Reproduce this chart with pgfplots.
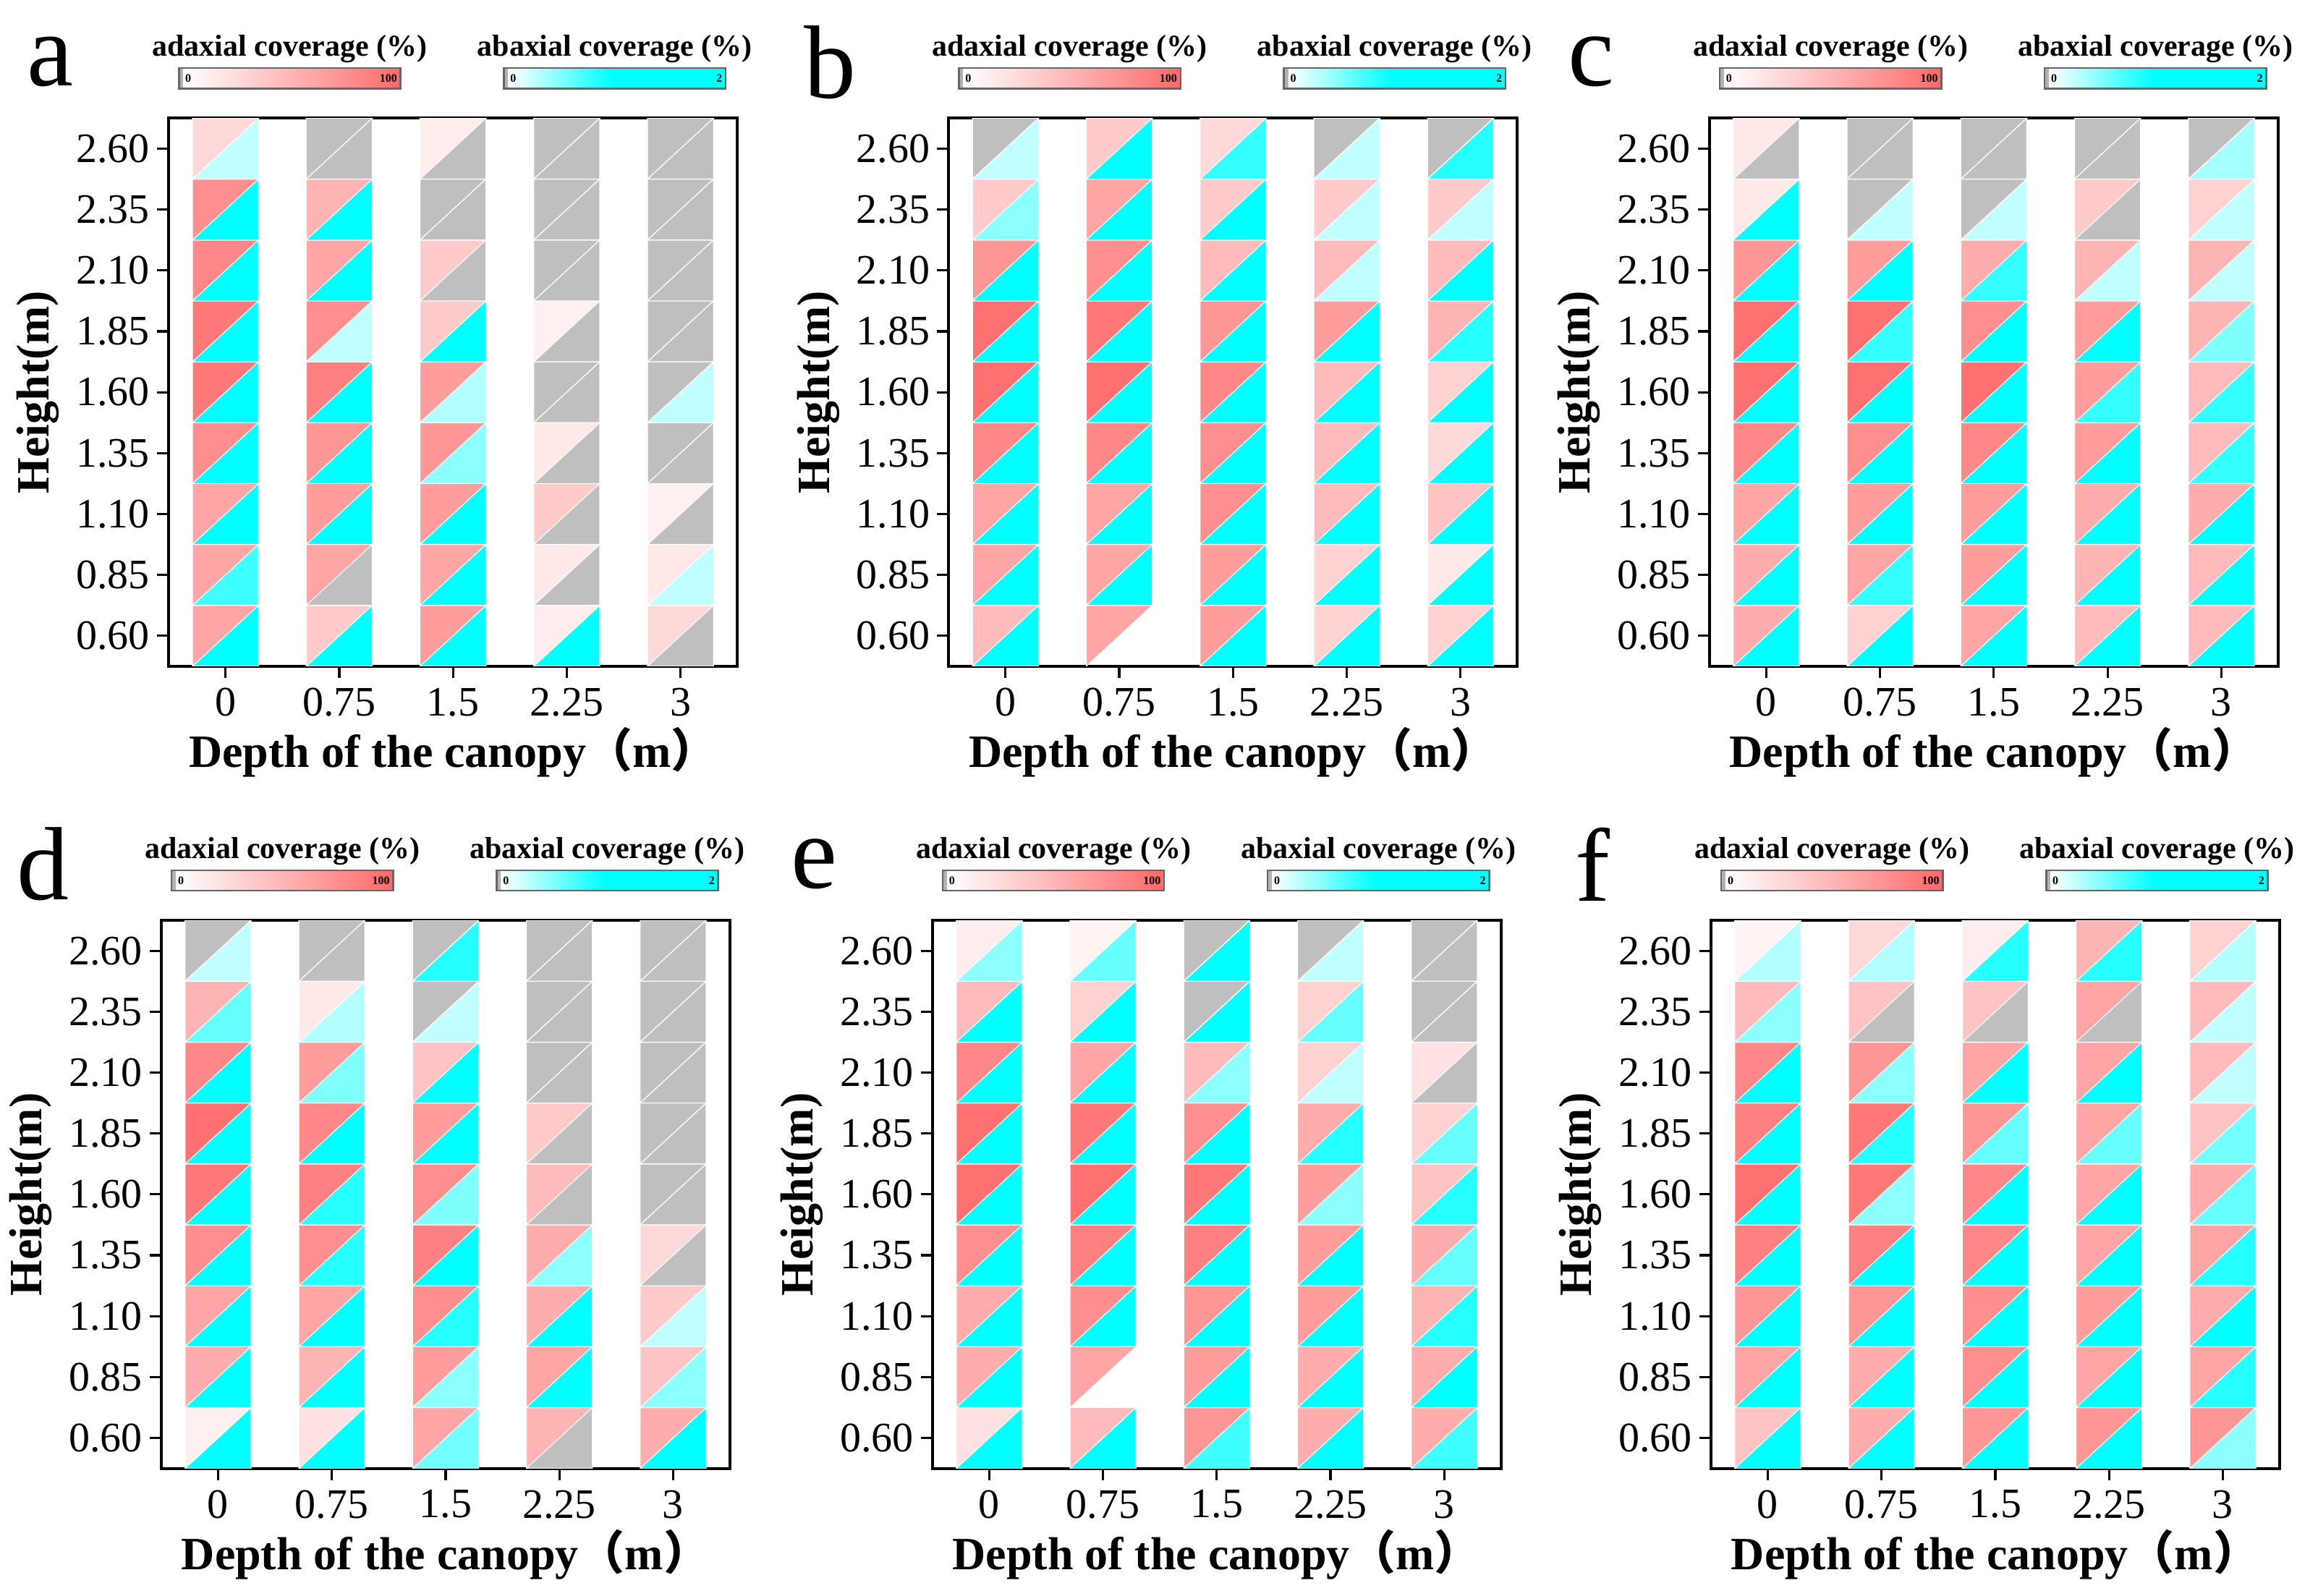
\documentclass[border=0pt]{standalone}
\usepackage{pgfplots}
\pgfplotsset{compat=1.18}
\usepackage{fontspec}
\setmainfont{Liberation Serif}
\newfontfamily\cjk{Noto Sans CJK SC}
\definecolor{adx}{RGB}{255,105,105}
\definecolor{abx}{RGB}{0,255,255}

\def\dataA{60/100,60/75,60/100,75/100,90/100,90/100,80/100,75/100,25/25,
35/100,60/-1,65/100,70/100,85/100,75/25,60/100,50/100,-1/-1,
65/100,60/100,65/100,70/45,65/30,35/100,35/-1,-1/-1,12/-1,
12/100,15/-1,35/-1,15/-1,-1/-1,10/-1,-1/-1,-1/-1,-1/-1,
25/-1,15/25,10/-1,-1/-1,-1/25,-1/-1,-1/-1,-1/-1,-1/-1}
\def\dataB{45/100,60/100,60/100,80/100,95/100,95/100,70/100,35/45,-1/25,
60/-2,60/100,60/100,80/100,95/100,90/100,75/100,60/100,35/100,
65/100,65/100,75/100,75/100,80/100,70/100,45/100,35/100,25/80,
30/100,30/100,45/100,45/100,45/100,65/100,45/25,35/25,-1/25,
30/100,15/100,40/100,25/100,30/100,50/85,45/100,35/25,-1/85}
\def\dataC{55/100,55/100,60/100,80/100,95/100,95/100,70/100,15/100,15/-1,
30/100,60/80,65/100,75/100,95/100,95/80,65/100,-1/25,-1/-1,
60/100,65/100,65/100,80/100,95/100,75/100,55/80,-1/25,-1/-1,
45/100,50/100,55/100,65/100,65/80,65/100,50/25,35/-1,-1/-1,
45/100,45/100,55/100,45/80,45/80,50/50,50/25,30/25,-1/35}
\def\dataD{10/100,55/100,60/100,75/100,90/100,95/100,80/100,50/60,-1/25,
20/100,50/100,60/100,75/85,85/85,80/100,65/50,15/30,-1/-1,
60/55,65/45,75/85,85/100,75/50,65/100,40/100,-1/25,-1/85,
50/-1,60/100,55/100,55/45,45/-1,35/-1,-1/-1,-1/-1,-1/-1,
55/100,40/45,35/25,25/-1,-1/-1,-1/-1,-1/-1,-1/-1,-1/-1}
\def\dataE{20/100,55/100,55/100,75/100,95/100,95/100,80/100,45/100,12/45,
45/100,60/-2,75/100,85/100,95/100,90/100,60/100,30/100,8/60,
70/75,65/100,70/100,85/100,90/100,75/100,45/45,-1/100,-1/100,
55/100,55/100,65/100,65/100,65/45,55/85,30/25,30/60,-1/25,
55/75,55/100,50/85,55/60,40/85,30/60,20/-1,-1/-1,-1/-1}
\def\dataF{40/100,60/100,70/100,85/100,95/100,85/100,80/100,45/45,8/30,
55/100,55/100,70/100,85/100,90/45,90/85,70/45,40/-1,25/30,
70/100,75/100,75/100,80/100,80/100,70/60,60/100,40/-1,12/85,
70/100,60/100,65/100,60/100,60/100,60/60,60/100,60/-1,50/85,
70/45,60/85,55/100,60/85,55/60,40/55,45/25,45/25,30/30}

\pgfplotsset{panel/.style={scale only axis,width=196.7pt,height=189.5pt,
 xmin=-0.5,xmax=4.5,ymin=-0.5,ymax=8.5,
 xtick={0,...,4},xticklabels={0,0.75,1.5,2.25,3},
 ytick={0,...,8},yticklabels={0.60,0.85,1.10,1.35,1.60,1.85,2.10,2.35,2.60},
 tick align=outside,xtick pos=bottom,ytick pos=left,major tick length=4pt,
 tick style={black,line width=0.8pt},axis line style={line width=1pt},
 ticklabel style={font=\fontsize{14.5}{14.5}\selectfont},
 yticklabel style={xshift=1pt},
 xlabel={Depth of the canopy{\cjk （}m{\cjk ）}},ylabel={Height(m)},
 label style={font=\fontsize{16}{16}\selectfont\bfseries},
 xlabel style={yshift=3pt},ylabel style={yshift=-1pt},
 anchor=north west,/pgf/number format/assume math mode=true}}

\newcommand\cells[1]{%
 \foreach \a/\b [count=\i from 0] in #1 {%
  \pgfmathtruncatemacro\c{div(\i,9)}%
  \pgfmathtruncatemacro\r{mod(\i,9)}%
  \pgfmathsetmacro\xl{\c-0.29}\pgfmathsetmacro\xr{\c+0.29}%
  \pgfmathsetmacro\yb{\r-0.5}\pgfmathsetmacro\yt{\r+0.5}%
  \ifnum\a=-1 \def\fa{black!25}\else\edef\fa{adx!\a!white}\fi
  \ifnum\b=-1 \def\fb{black!25}\else\edef\fb{abx!\b!white}\fi
  \ifnum\a>-2 \edef\tmp{\noexpand\addplot[fill=\fa,draw=white,line width=0.3pt] coordinates {(\xl,\yb)(\xl,\yt)(\xr,\yt)(\xl,\yb)};}\tmp\fi
  \ifnum\b>-2 \edef\tmp{\noexpand\addplot[fill=\fb,draw=white,line width=0.3pt] coordinates {(\xl,\yb)(\xr,\yb)(\xr,\yt)(\xl,\yb)};}\tmp\fi
 }}

\newcommand\bars[3]{% frame-left x, frame top y (down), letter
 \pgfmathsetmacro\Y{-#2}%
 \node[font=\fontsize{36}{36}\selectfont] at (#1-80,\Y+38) {#3};
 \node[font=\fontsize{10.5}{10.5}\selectfont\bfseries] at (#1+82,\Y+47) {adaxial coverage (\%)};
 \node[font=\fontsize{10.5}{10.5}\selectfont\bfseries] at (#1+302,\Y+47) {abaxial coverage (\%)};
 \fill[black!30] (#1+7,\Y+34) rectangle (#1+10,\Y+20);
 \shade[left color=white,right color=adx] (#1+10,\Y+34) rectangle (#1+157,\Y+20);
 \draw[black!60,line width=0.6pt] (#1+7,\Y+34) rectangle (#1+157,\Y+20);
 \fill[black!30] (#1+227,\Y+34) rectangle (#1+230,\Y+20);
 \shade[left color=white,right color=abx] (#1+230,\Y+34) rectangle (#1+300,\Y+20);
 \fill[abx] (#1+300,\Y+34) rectangle (#1+377,\Y+20);
 \draw[black!60,line width=0.6pt] (#1+227,\Y+34) rectangle (#1+377,\Y+20);
 \node[font=\fontsize{4}{4}\selectfont\bfseries,anchor=west,inner sep=0.5pt] at (#1+10,\Y+27) {0};
 \node[font=\fontsize{4}{4}\selectfont\bfseries,anchor=east,inner sep=0.5pt] at (#1+156,\Y+27) {100};
 \node[font=\fontsize{4}{4}\selectfont\bfseries,anchor=west,inner sep=0.5pt] at (#1+230,\Y+27) {0};
 \node[font=\fontsize{4}{4}\selectfont\bfseries,anchor=east,inner sep=0.5pt] at (#1+376,\Y+27) {2};
}

\begin{document}
\begin{tikzpicture}[x=0.5108pt,y=0.5108pt]
\path (0,0) rectangle (1568,-1080);
\bars{113}{80}{a}\bars{641}{80}{b}\bars{1156}{80}{c}
\bars{108}{623}{d}\bars{630}{623}{e}\bars{1157}{623}{f}
\coordinate (pa) at (113,-80);\coordinate (pb) at (641,-80);\coordinate (pc) at (1156,-80);
\coordinate (pd) at (108,-623);\coordinate (pe) at (630,-623);\coordinate (pf) at (1157,-623);
\begin{axis}[panel,at={(pa)}]\cells{\dataA}\end{axis}
\begin{axis}[panel,at={(pb)}]\cells{\dataB}\end{axis}
\begin{axis}[panel,at={(pc)}]\cells{\dataC}\end{axis}
\begin{axis}[panel,at={(pd)}]\cells{\dataD}\end{axis}
\begin{axis}[panel,at={(pe)}]\cells{\dataE}\end{axis}
\begin{axis}[panel,at={(pf)}]\cells{\dataF}\end{axis}
\end{tikzpicture}
\end{document}
